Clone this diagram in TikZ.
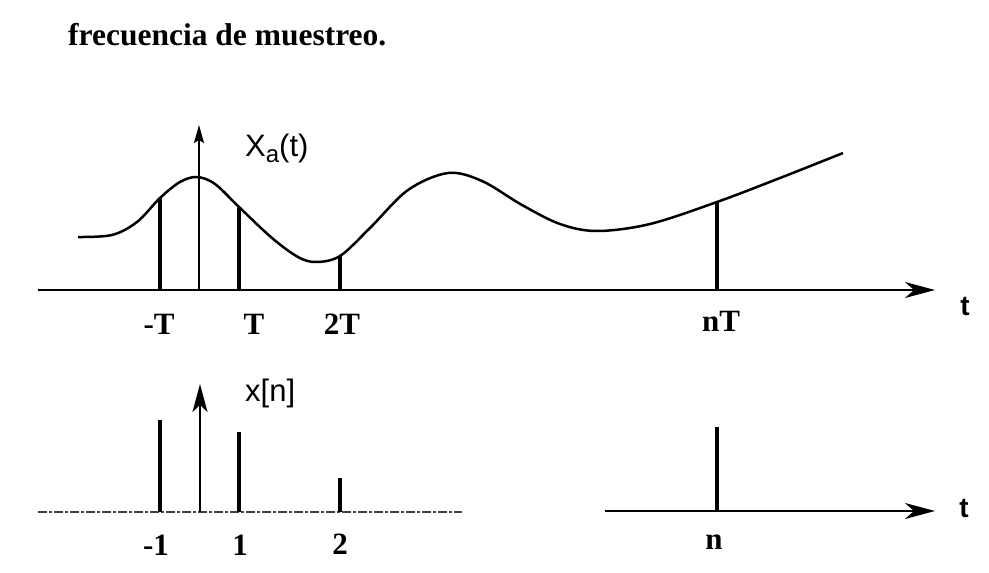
\documentclass[tikz,border=0pt]{standalone}
\usepackage{fontspec}
\setmainfont{Liberation Serif}
\newfontfamily\sansf{Liberation Sans}
\usetikzlibrary{arrows.meta}
\begin{document}
\begin{tikzpicture}[x=1pt,y=-1pt,
  axisline/.style={line width=2pt,-{Stealth[length=30pt,width=16pt,inset=9pt]}},
  faintaxis/.style={line width=1.5pt,black!75,dash pattern=on 9pt off 2pt on 3pt off 2pt},
  plainaxis/.style={line width=1.8pt},
  stem/.style={line width=3.4pt},
  curve/.style={line width=2.5pt},
  vaxis/.style={line width=1.6pt,-{Stealth[length=18pt,width=10pt,inset=3pt]}},
  vaxisb/.style={line width=1.6pt,-{Stealth[length=28pt,width=15pt,inset=7pt]}},
  lbl/.style={font=\fontsize{31}{31}\selectfont\bfseries, anchor=base, inner sep=0pt},
  slbl/.style={font=\fontsize{31}{31}\selectfont\sansf, anchor=base west, inner sep=0pt},
  tlbl/.style={font=\fontsize{28}{28}\selectfont\sansf\bfseries, anchor=base, inner sep=0pt},
]
\useasboundingbox (0,0) rectangle (989,573);
\fill[white] (0,0) rectangle (989,573);

% title
\node[anchor=base west, inner sep=0pt, font=\fontsize{31.5}{31.5}\selectfont\bfseries] (title) at (68,45) {frecuencia de muestreo.};

% ---------- upper plot ----------
\coordinate (a0) at (38,290);
\coordinate (a1) at (935,290);
\draw[axisline] (a0) -- (a1);

\draw[curve] plot[smooth, tension=0.55] coordinates {
 (78,237) (112,235) (137,222) (160,198) (180,182) (197,177) (215,184)
 (239,207) (272,238) (298,257) (316,262) (340,256) (370,228) (408,190)
 (448,173) (482,181) (522,205) (560,224) (597,231) (650,224) (717,202)
 (780,178) (843,153)};

\foreach \n/\x/\y in {m1/160/198, p1/239/207, p2/340/256, pn/717/202}{
  \coordinate (top\n) at (\x,\y);
  \coordinate (bot\n) at (\x,290);
  \draw[stem] (bot\n) -- (top\n);
}

\coordinate (va0) at (199,290);
\coordinate (va1) at (199,125);
\draw[vaxis] (va0) -- (va1);

\node[slbl] (xa) at (245,156) {X\raisebox{-6pt}{\fontsize{24}{24}\selectfont a}(t)};

\node[lbl] (lm1) at (159,334) {-T};
\node[lbl] (lp1) at (254,334) {T};
\node[lbl] (lp2) at (342,334) {2T};
\node[lbl] (lpn) at (721,331) {nT};
\node[tlbl] (t1) at (965,315) {t};

% ---------- lower plot ----------
\coordinate (b0) at (38,512);
\coordinate (b1) at (462,512);
\draw[faintaxis] (b0) -- (b1);
\coordinate (c0) at (605,511);
\coordinate (c1) at (935,511);
\draw[plainaxis,-{Stealth[length=30pt,width=16pt,inset=9pt]}] (c0) -- (c1);

\foreach \n/\x/\y/\b in {m1/160/420/512, p1/239/432/512, p2/340/478/512, pn/717/427/511}{
  \coordinate (dtop\n) at (\x,\y);
  \coordinate (dbot\n) at (\x,\b);
  \draw[stem] (dbot\n) -- (dtop\n);
}

\coordinate (vb0) at (200,512);
\coordinate (vb1) at (200,384);
\draw[vaxisb] (vb0) -- (vb1);

\node[slbl] (xn) at (245,401) {x[n]};

\node[lbl] (nm1) at (156,555) {-1};
\node[lbl] (np1) at (240,555) {1};
\node[lbl] (np2) at (340,554) {2};
\node[lbl] (npn) at (714,549) {n};
\node[tlbl] (t2) at (964,517) {t};
\end{tikzpicture}
\end{document}
